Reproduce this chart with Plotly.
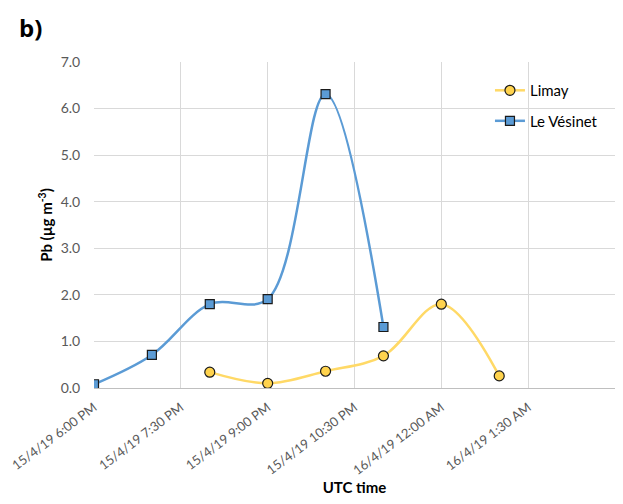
import plotly.graph_objects as go

# Data
limay_times = ["2019-04-15 20:00", "2019-04-15 21:00", "2019-04-15 22:00",
               "2019-04-15 23:00", "2019-04-16 00:00", "2019-04-16 01:00"]
limay_pb = [0.34, 0.10, 0.36, 0.69, 1.80, 0.26]

vesinet_times = ["2019-04-15 18:00", "2019-04-15 19:00", "2019-04-15 20:00",
                 "2019-04-15 21:00", "2019-04-15 22:00", "2019-04-15 23:00"]
vesinet_pb = [0.08, 0.71, 1.80, 1.91, 6.31, 1.31]

tick_vals = ["2019-04-15 18:00", "2019-04-15 19:30", "2019-04-15 21:00",
             "2019-04-15 22:30", "2019-04-16 00:00", "2019-04-16 01:30"]
tick_text = ["15/4/19 6:00 PM", "15/4/19 7:30 PM", "15/4/19 9:00 PM",
             "15/4/19 10:30 PM", "16/4/19 12:00 AM", "16/4/19 1:30 AM"]
y_ticks = [0, 1, 2, 3, 4, 5, 6, 7]

fig = go.Figure()
fig.add_trace(go.Scatter(
    x=limay_times, y=limay_pb, name="Limay", mode="lines+markers",
    line=dict(color="#FFD966", width=2.5, shape="spline", smoothing=1),
    marker=dict(symbol="circle", size=10, color="#FFD34D",
                line=dict(color="#1a1a1a", width=1.2)),
    legendgroup="a"))
fig.add_trace(go.Scatter(
    x=vesinet_times, y=vesinet_pb, name="Le Vésinet", mode="lines+markers",
    line=dict(color="#5B9BD5", width=2.5, shape="spline", smoothing=1),
    marker=dict(symbol="square", size=9, color="#5B9BD5",
                line=dict(color="#1a1a1a", width=1.2)),
    legendgroup="b"))

fig.update_layout(
    width=615, height=496,
    margin=dict(l=86, r=8, t=54, b=116, autoexpand=False),
    paper_bgcolor="white", plot_bgcolor="white",
    font=dict(family="Lato, Open Sans, sans-serif", size=14, color="#595959"),
    showlegend=True,
    legend=dict(x=0.760, y=0.963, xanchor="left", yanchor="top",
                bgcolor="rgba(0,0,0,0)", font=dict(size=15, color="#000000"),
                tracegroupgap=8, traceorder="grouped"),
    xaxis=dict(type="date", range=["2019-04-15 18:00", "2019-04-16 03:00"],
               tickmode="array", tickvals=tick_vals, ticktext=tick_text,
               tickangle=-37, showgrid=True, gridcolor="#D9D9D9", gridwidth=1,
               showline=True, linecolor="#BFBFBF", linewidth=1,
               ticks="outside", ticklen=6, tickcolor="rgba(0,0,0,0)",
               ticklabeloverflow="allow", automargin=False,
               tickfont=dict(size=13, color="#595959"),
               title=dict(text="<b>UTC time</b>", font=dict(size=15, color="#000000"),
                          standoff=4)),
    yaxis=dict(range=[0, 7], tickmode="array", tickvals=y_ticks, tickformat=".1f",
               showgrid=True, gridcolor="#D9D9D9", gridwidth=1,
               showline=False, zeroline=False, automargin=False,
               ticks="outside", ticklen=10, tickcolor="rgba(0,0,0,0)",
               tickfont=dict(size=14, color="#595959"),
               title=dict(text="<b>Pb (µg m<sup>-3</sup>)</b>",
                          font=dict(size=15, color="#000000"), standoff=4)),
    annotations=[dict(text="<b>b)</b>", xref="paper", yref="paper",
                      x=-0.121, y=1.164, xanchor="center", yanchor="top",
                      showarrow=False, font=dict(size=24, color="#000000",
                                                 family="Open Sans, sans-serif"))],
)

fig.write_html("out.html")
